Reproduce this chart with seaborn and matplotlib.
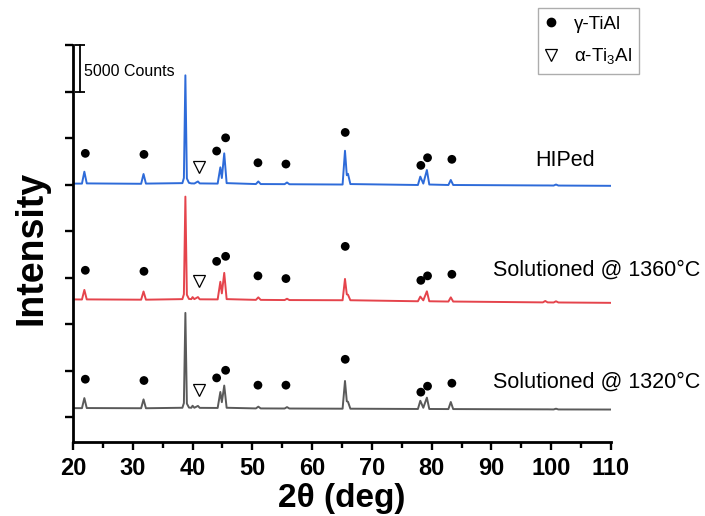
import matplotlib
matplotlib.use('Agg')
import matplotlib.pyplot as plt
import seaborn as sns
from matplotlib.lines import Line2D

# 2-theta knots (deg)
two_theta = [20.0, 21.5, 21.9, 22.3, 31.4, 31.8, 32.2, 38.3, 38.55, 38.8, 39.05,
             39.4, 39.8, 40.0, 40.3, 40.9, 41.2, 44.2, 44.65, 44.9, 45.3, 45.7,
             50.6, 51.0, 51.4, 55.4, 55.8, 56.2, 65.1, 65.5, 65.8, 66.0, 66.4,
             77.7, 78.1, 78.6, 79.2, 79.6, 82.8, 83.2, 83.6, 98.6, 99.0, 99.4,
             100.4, 100.8, 101.2, 110.0]

# counts (patterns already stacked with their offsets)
hiped = [25100, 25100, 26380, 25120, 25080, 26130, 25100, 25150, 25700, 36740, 25650,
         25180, 25120, 25120, 25110, 25330, 25120, 25100, 26850, 25700, 28350, 25150,
         25050, 25330, 25050, 25040, 25220, 25030, 25000, 28630, 26000, 26150, 25050,
         24950, 25850, 25100, 26560, 25000, 24950, 25490, 24950, 24900, 24900, 24900,
         24890, 25000, 24890, 24860]
sol_1360 = [12650, 12640, 13670, 12650, 12620, 13500, 12620, 12680, 13200, 23700, 13150,
            12700, 12680, 12900, 12680, 12900, 12660, 12650, 14550, 13300, 15500, 12680,
            12600, 12870, 12600, 12580, 12720, 12580, 12560, 14850, 13200, 13150, 12560,
            12450, 12950, 12550, 13520, 12450, 12420, 12870, 12420, 12330, 12480, 12330,
            12320, 12450, 12320, 12280]
sol_1320 = [960, 960, 2040, 970, 950, 1900, 950, 1000, 1500, 11200, 1450,
            1020, 1000, 1220, 1000, 1200, 990, 980, 2700, 1600, 3390, 1000,
            930, 1120, 930, 920, 1070, 920, 900, 3880, 1700, 1650, 900,
            870, 1750, 1000, 2090, 870, 860, 1620, 860, 830, 830, 830,
            820, 900, 820, 810]

sample_names = ['HIPed', 'Solutioned @ 1360°C', 'Solutioned @ 1320°C']
colors = ['#2e6bd9', '#e5444c', '#5a5a5a']

# phase markers
gamma_pos = [22.06, 31.87, 44.03, 45.53, 50.94, 55.62, 65.54, 78.19, 79.31, 83.38]
gamma_hiped = [28350, 28240, 28600, 30020, 27340, 27200, 30600, 27060, 27880, 27710]
gamma_1360 = [15780, 15670, 16740, 17280, 15180, 14890, 18350, 14700, 15180, 15350]
gamma_1320 = [4070, 3930, 4210, 5030, 3430, 3430, 6210, 2680, 3320, 3640]
alpha2_pos = [41.12]
alpha2_hiped = [26850]
alpha2_1360 = [14670]
alpha2_1320 = [2920]

scale_bar = 5000

sns.set_style('ticks')
plt.rcParams['font.family'] = ['Liberation Sans', 'DejaVu Sans']
plt.rcParams['mathtext.fontset'] = 'custom'
plt.rcParams['mathtext.rm'] = 'Liberation Sans'
for k in ['text.color', 'axes.labelcolor', 'xtick.color', 'ytick.color', 'axes.edgecolor']:
    plt.rcParams[k] = 'black'

fig = plt.figure(figsize=(7.05, 5.16), dpi=100)
ax = fig.add_axes([73 / 705, 1 - 442 / 516, 538 / 705, 397 / 516])

for y, c in zip([hiped, sol_1360, sol_1320], colors):
    sns.lineplot(x=two_theta, y=y, color=c, lw=1.4, ax=ax, errorbar=None)

for gy, ay in zip([gamma_hiped, gamma_1360, gamma_1320],
                  [alpha2_hiped, alpha2_1360, alpha2_1320]):
    sns.scatterplot(x=gamma_pos, y=gy, marker='o', s=40, color='black',
                    edgecolor='none', ax=ax, zorder=5)
    ax.plot(alpha2_pos, ay, ls='none', marker='v', ms=9, mfc='none',
            mec='black', mew=0.9, zorder=5)

# sample names
ax.text(102.3, 27630, sample_names[0], fontsize=15.5, ha='center', va='center')
ax.text(107.6, 15740, sample_names[1], fontsize=15.5, ha='center', va='center')
ax.text(107.6, 3750, sample_names[2], fontsize=15.5, ha='center', va='center')

# scale bar
ax.plot([21.2, 21.2], [40000 - scale_bar, 40000], color='black', lw=1.3,
        marker='_', ms=7, mew=1.3, clip_on=False)
ax.text(21.9, 37200, f'{scale_bar} Counts', fontsize=11.5, va='center')

ax.set_xlim(20, 110)
ax.set_ylim(-2680, 40000)
ax.set_xticks(range(20, 111, 10))
ax.set_xticks(range(25, 110, 10), minor=True)
ax.set_yticks(range(0, 40001, 5000))
ax.set_yticklabels([])
ax.tick_params(axis='both', which='major', direction='out', length=6, width=1.7)
ax.tick_params(axis='x', which='minor', direction='out', length=4, width=1.7)
ax.tick_params(axis='x', labelsize=17, pad=5)
for lab in ax.get_xticklabels():
    lab.set_fontweight('bold')
for s in ['left', 'bottom']:
    ax.spines[s].set_linewidth(2.0)
sns.despine(ax=ax)

ax.set_xlabel('2θ (deg)', fontsize=24, fontweight='bold', labelpad=2)
ax.set_ylabel('Intensity', fontsize=27, fontweight='bold')
ax.yaxis.set_label_coords(-0.043, 0.49)

handles = [Line2D([], [], ls='none', marker='o', ms=6, color='black'),
           Line2D([], [], ls='none', marker='v', ms=9, mfc='none', mec='black', mew=0.9)]
leg = ax.legend(handles, ['γ-TiAl', 'α-Ti$_3$Al'], loc='upper left',
                bbox_to_anchor=(538 / 705, 1 - 8 / 516), bbox_transform=fig.transFigure,
                borderaxespad=0, fontsize=13.5, frameon=True, fancybox=False,
                edgecolor='#999999', handlelength=0.6, handletextpad=0.9,
                borderpad=0.4, labelspacing=0.75)
leg.get_frame().set_linewidth(1.0)

fig.savefig('out.png', dpi=100)
